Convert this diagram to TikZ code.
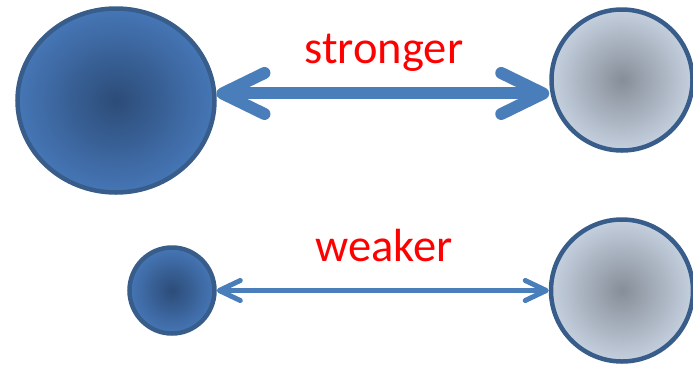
\documentclass[tikz,border=0pt]{standalone}
\usepackage{fontspec}
\setmainfont{Carlito}
\usetikzlibrary{arrows.meta,shapes.geometric}

\definecolor{rimblue}{HTML}{385D8A}
\definecolor{linkblue}{HTML}{4A7EBB}
\definecolor{bluecore}{HTML}{2C4C78}
\definecolor{blueedge}{HTML}{4676B6}
\definecolor{greycore}{HTML}{868E98}
\definecolor{greyedge}{HTML}{C5D0DF}
\pgfdeclareradialshading{blueball}{\pgfpoint{0bp}{0bp}}{color(0bp)=(bluecore); color(25bp)=(blueedge); color(50bp)=(blueedge)}
\pgfdeclareradialshading{greyball}{\pgfpoint{0bp}{0bp}}{color(0bp)=(greycore); color(25bp)=(greyedge); color(50bp)=(greyedge)}

\tikzset{
  ball/.style={ellipse, draw=rimblue, line width=4.5pt, inner sep=0pt},
  word/.style={anchor=base, text=red, font=\fontsize{46.5}{50}\selectfont},
  strong link/.style={draw=linkblue, line width=12pt,
    {Straight Barb[length=42pt, width=41pt, round]}-{Straight Barb[length=42pt, width=41pt, round]}},
  weak link/.style={draw=linkblue, line width=5pt,
    {Straight Barb[length=21pt, width=20pt, round]}-{Straight Barb[length=21pt, width=20pt, round]}}
}

\begin{document}
\begin{tikzpicture}[x=1pt, y=-1pt]
        \useasboundingbox (0, 0) rectangle (693, 365);
        \node (LT) [ball, shading=blueball, minimum width=197pt, minimum height=184pt] at (116, 100.5) {};
        \node (RT) [ball, shading=greyball, minimum width=141pt, minimum height=141pt] at (622, 80) {};
        \node (LB) [ball, shading=blueball, minimum width=85pt, minimum height=86pt] at (172, 290.5) {};
        \node (RB) [ball, shading=greyball, minimum width=142pt, minimum height=142pt] at (622, 290.5) {};
        \node (ST) [word] at (384, 63) {stronger};
        \node (WK) [word] at (384, 261) {weaker};
        \draw [strong link] (LT.4) -- (LT.4 -| RT.west);
        \draw [weak link] (LB) -- (RB);
\end{tikzpicture}
\end{document}
